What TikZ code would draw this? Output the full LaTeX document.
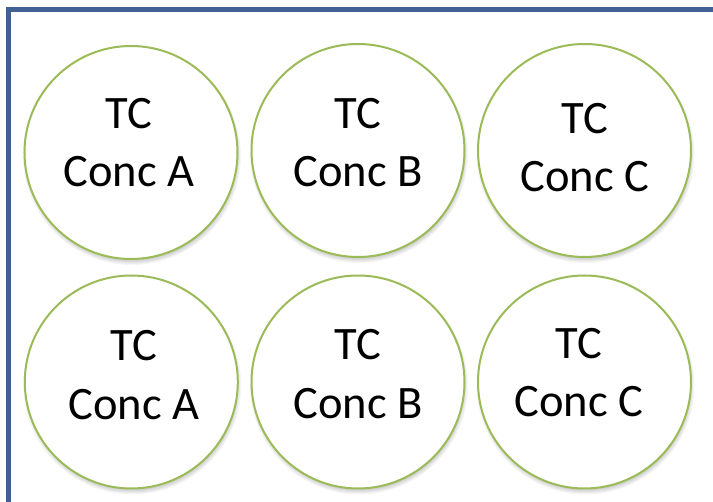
\documentclass[tikz,border=0pt]{standalone}
\usepackage{fontspec}
\setmainfont{Carlito}
\definecolor{framblue}{HTML}{3F6193}
\definecolor{ringgreen}{HTML}{9BBB59}
\begin{document}
\begin{tikzpicture}[x=1pt,y=-1pt,
  well/.style={circle,draw=ringgreen,line width=2pt,fill=white,minimum size=213pt,inner sep=0pt},
  softshade/.style={fill=black,fill opacity=0.035},
  lbl/.style={align=center,anchor=base,font=\fontsize{46.5}{58.5}\selectfont,inner sep=0pt}]
\useasboundingbox (0,0) rectangle (713,502);
\fill[white] (0,0) rectangle (713,502);
\draw[framblue,line width=5pt] (8.5,505) -- (8.5,9.5) -- (716,9.5);
\foreach \cx/\cy in {131/152.5,358/150.5,584.5/150.5,131.3/382,358/382,584.5/382}{
  \foreach \rr in {104,105,106,107,108,109}{
    \fill[softshade] (\cx+1,\cy+3.5) circle[radius=\rr];
  }
}
\node[well] (c1) at (131,152.5) {};
\node[well] (c2) at (358,150.5) {};
\node[well] (c3) at (584.5,150.5) {};
\node[well] (c4) at (131.3,382) {};
\node[well] (c5) at (358,382) {};
\node[well] (c6) at (584.5,382) {};
\node[lbl] (t1) at (129,186.7) {TC\\Conc A};
\node[lbl] (t2) at (358,186.7) {TC\\Conc B};
\node[lbl] (t3) at (585,191.7) {TC\\Conc C};
\node[lbl] (t4) at (134,419.3) {TC\\Conc A};
\node[lbl] (t5) at (358,418.3) {TC\\Conc B};
\node[lbl] (t6) at (578.7,416.7) {TC\\Conc C};
\end{tikzpicture}
\end{document}
